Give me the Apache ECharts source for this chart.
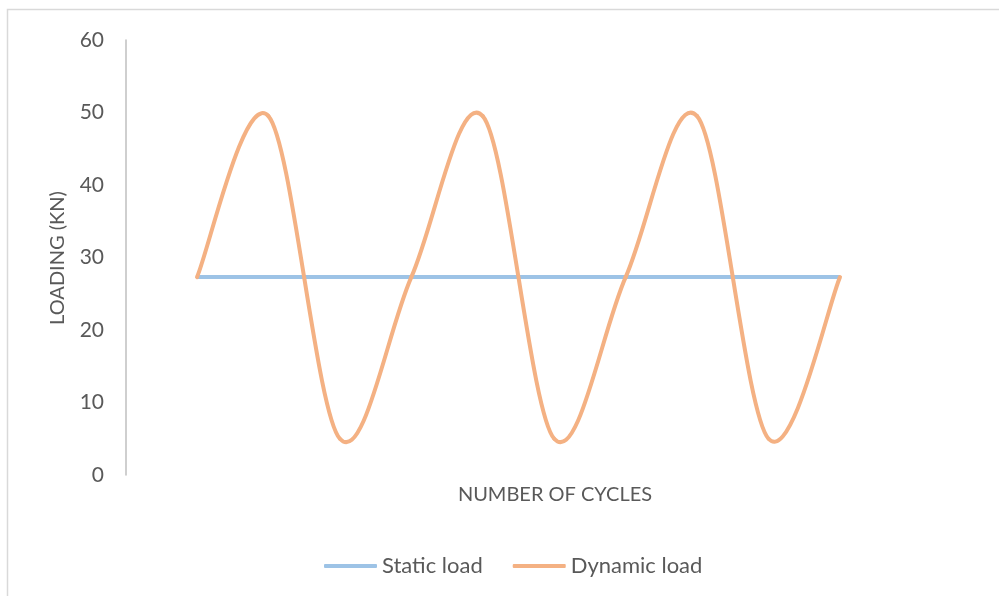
<!DOCTYPE html>
<html>
<head>
<meta charset="utf-8">
<script src="https://cdn.jsdelivr.net/npm/echarts@6/dist/echarts.min.js"></script>
<style>
  html, body { margin: 0; padding: 0; background: #ffffff; }
  #chart { width: 999px; height: 596px; }
</style>
</head>
<body>
<div id="chart"></div>
<script>
// Load readings per sample point over three loading cycles
const cycles = ['1', '2', '3', '4', '5', '6', '7', '8', '9', '10'];
const staticLoad = [27.3, 27.3, 27.3, 27.3, 27.3, 27.3, 27.3, 27.3, 27.3, 27.3];
const dynamicLoad = [27.3, 49.5, 5.0, 27.3, 49.5, 5.0, 27.3, 49.5, 5.0, 27.3];
const yTicks = [0, 10, 20, 30, 40, 50, 60];

const FONT = 'Lato, "Open Sans", sans-serif';
const TEXT = '#595959';
const BLUE = '#9dc3e6';
const ORANGE = '#f4b183';

// Cardinal (Catmull-Rom, tension 1/6) smoothing between neighbouring points,
// each segment drawn as a cubic Bezier in pixel space from the axis scales.
function smoothSegment(params, api) {
  const i = params.dataIndex;
  if (i === 0) return null;
  const n = dynamicLoad.length;
  const pt = function (k) {
    const j = Math.max(0, Math.min(n - 1, k));
    return api.coord([j, dynamicLoad[j]]);
  };
  const p0 = pt(i - 2), p1 = pt(i - 1), p2 = pt(i), p3 = pt(i + 1);
  return {
    type: 'bezierCurve',
    silent: true,
    shape: {
      x1: p1[0], y1: p1[1],
      cpx1: p1[0] + (p2[0] - p0[0]) / 6, cpy1: p1[1] + (p2[1] - p0[1]) / 6,
      cpx2: p2[0] - (p3[0] - p1[0]) / 6, cpy2: p2[1] - (p3[1] - p1[1]) / 6,
      x2: p2[0], y2: p2[1]
    },
    style: { stroke: ORANGE, lineWidth: 4, fill: null, lineCap: 'round' }
  };
}

const chart = echarts.init(document.getElementById('chart'), null, { renderer: 'canvas' });

chart.setOption({
  backgroundColor: '#ffffff',
  animation: false,
  textStyle: { fontFamily: FONT },
  grid: { left: 197, right: 159, top: 40, bottom: 121, containLabel: false },
  xAxis: {
    type: 'category',
    data: cycles,
    boundaryGap: false,
    axisLine: { show: false },
    axisTick: { show: false },
    axisLabel: { show: false },
    splitLine: { show: false }
  },
  yAxis: {
    type: 'value',
    min: yTicks[0],
    max: yTicks[yTicks.length - 1],
    interval: 10,
    offset: 71,
    axisLine: { show: true, lineStyle: { color: '#bfbfbf', width: 1.5 } },
    axisTick: { show: false },
    splitLine: { show: false },
    axisLabel: { color: TEXT, fontSize: 21, margin: 22, fontFamily: FONT }
  },
  legend: {
    left: 319,
    top: 550,
    icon: 'roundRect',
    itemWidth: 53,
    itemHeight: 4,
    itemGap: 30,
    textStyle: { color: TEXT, fontSize: 22, fontFamily: FONT, padding: [0, 0, 0, 0] },
    data: ['Static load', 'Dynamic load']
  },
  graphic: [
    {
      type: 'polyline',
      silent: true,
      shape: { points: [[7.5, 600], [7.5, 9.5], [1005, 9.5]] },
      style: { stroke: '#d9d9d9', lineWidth: 1.5, fill: null }
    },
    {
      type: 'text',
      x: 555,
      y: 495,
      style: {
        text: 'NUMBER OF CYCLES',
        fill: TEXT,
        font: '20px ' + FONT,
        textAlign: 'center',
        textVerticalAlign: 'middle'
      }
    },
    {
      type: 'text',
      x: 58,
      y: 258,
      rotation: Math.PI / 2,
      style: {
        text: 'LOADING (KN)',
        fill: TEXT,
        font: '20px ' + FONT,
        textAlign: 'center',
        textVerticalAlign: 'middle'
      }
    }
  ],
  series: [
    {
      name: 'Static load',
      type: 'line',
      data: staticLoad,
      symbol: 'none',
      lineStyle: { color: BLUE, width: 4 },
      itemStyle: { color: BLUE },
      z: 2
    },
    {
      name: 'Dynamic load',
      type: 'custom',
      data: dynamicLoad.map(function (v, i) { return [i, v]; }),
      encode: { x: 0, y: 1 },
      renderItem: smoothSegment,
      itemStyle: { color: ORANGE },
      z: 3
    }
  ]
});
</script>
</body>
</html>
